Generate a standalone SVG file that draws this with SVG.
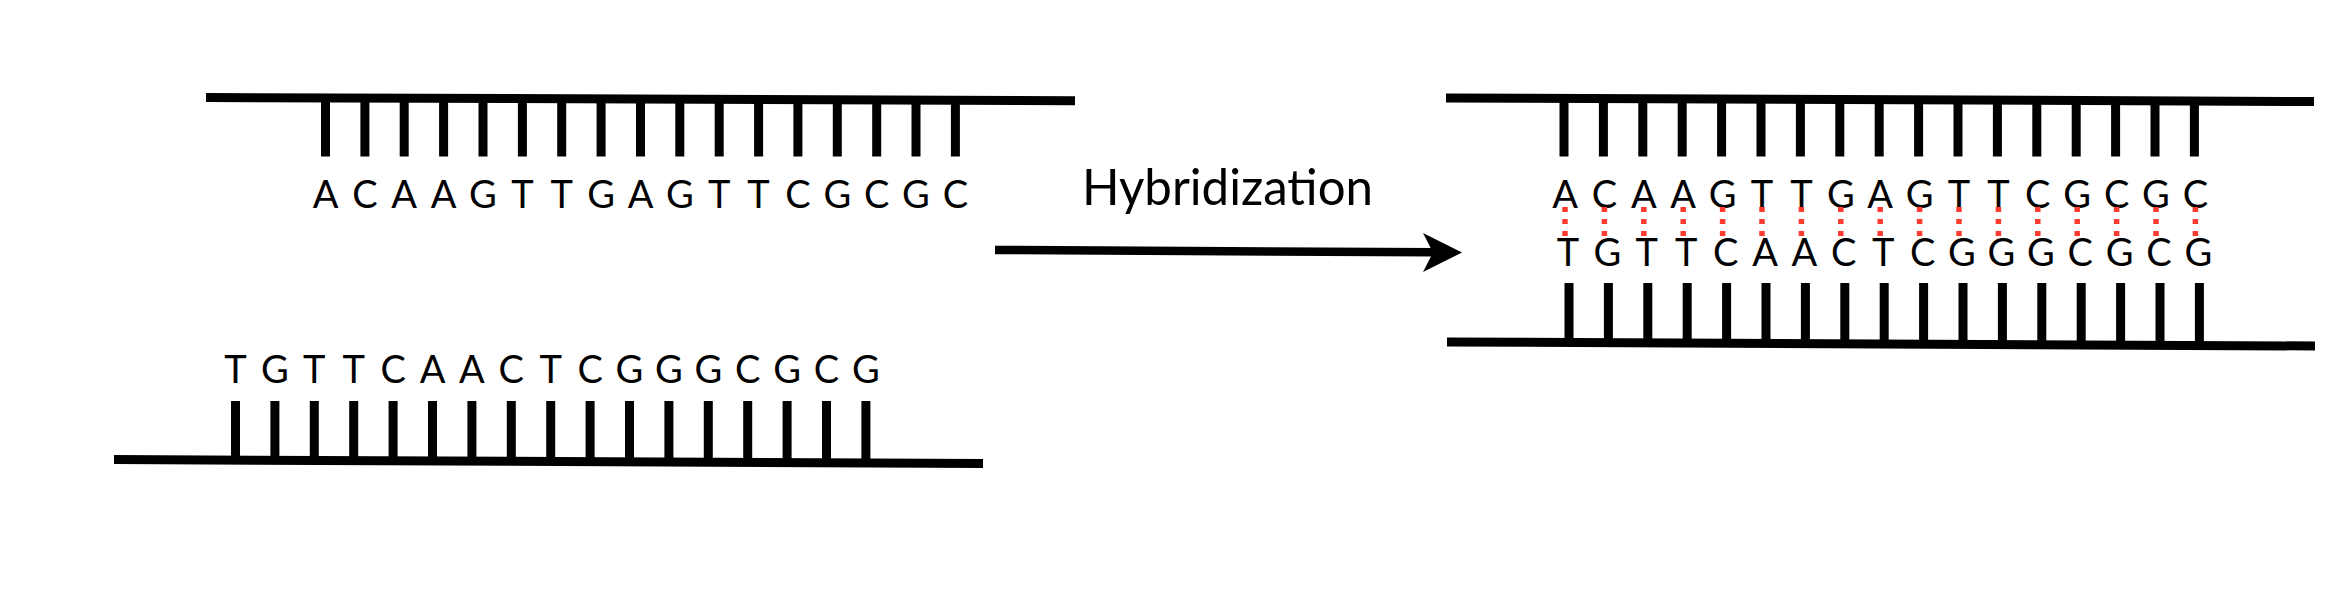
<svg xmlns="http://www.w3.org/2000/svg" width="2340" height="598" viewBox="0 0 2340 598">
<style>
.bb{stroke:#000;stroke-width:9;fill:none}
.tk{stroke:#000;stroke-width:9;fill:none}
.seq{font-family:Lato,"Liberation Sans",sans-serif;font-size:38px;fill:#000;text-anchor:middle}
.hb{stroke:#ff3b30;stroke-width:5.5;stroke-dasharray:5 7;fill:none}
.lbl{font-family:Lato,"Liberation Sans",sans-serif;font-size:50px;fill:#000}
</style>
<rect width="2340" height="598" fill="#fff"/>
<g id="strand-top-left">
<line class="bb" x1="206" y1="97.5" x2="1075" y2="100.7"/>
<path class="tk" d="M325.5 98V156.5M364.9 98V156.5M404.2 98V156.5M443.6 98V156.5M483 98V156.5M522.4 98V156.5M561.7 98V156.5M601.1 98V156.5M640.5 98V156.5M679.8 98V156.5M719.2 99V156.5M758.6 99V156.5M797.9 99V156.5M837.3 99V156.5M876.7 99V156.5M916 99V156.5M955.4 99V156.5"/>
<text class="seq" x="325.5 364.9 404.2 443.6 483 522.4 561.7 601.1 640.5 679.8 719.2 758.6 797.9 837.3 876.7 916 955.4" y="207.5">ACAAGTTGAGTTCGCGC</text>
</g>
<g id="strand-bottom-left">
<line class="bb" x1="114" y1="459.5" x2="983" y2="463.5"/>
<path class="tk" d="M235.5 401V460M274.9 401V460M314.3 401V460M353.7 401V460M393.1 401V461M432.5 401V461M471.9 401V461M511.3 401V461M550.7 401V461M590.1 401V462M629.5 401V462M668.9 401V462M708.3 401V462M747.7 401V462M787.1 401V462M826.5 401V462M865.9 401V462"/>
<text class="seq" x="235.5 274.9 314.3 353.7 393.1 432.5 471.9 511.3 550.7 590.1 629.5 668.9 708.3 747.7 787.1 826.5 865.9" y="383">TGTTCAACTCGGGCGCG</text>
</g>
<g id="label-hybridization">
<text class="lbl" x="1082" y="205" textLength="291" lengthAdjust="spacingAndGlyphs">Hybridization</text>
</g>
<g id="connectors">
<line x1="995" y1="250" x2="1435" y2="252.3" stroke="#000" stroke-width="8.5"/>
<polygon points="1462,252.5 1423,233 1433,252.5 1423,272" fill="#000"/>
</g>
<g id="duplex-right">
<line class="bb" x1="1446" y1="98" x2="2314" y2="101.5"/>
<path class="tk" d="M1564 99V156.5M1603.4 99V156.5M1642.8 99V156.5M1682.2 99V156.5M1721.6 99V156.5M1761 99V156.5M1800.4 99V156.5M1839.8 99V156.5M1879.2 99V156.5M1918.6 100V156.5M1958 100V156.5M1997.4 100V156.5M2036.8 100V156.5M2076.2 100V156.5M2115.6 100V156.5M2155 100V156.5M2194.4 100V156.5"/>
<text class="seq" x="1565 1604.4 1643.8 1683.2 1722.6 1762 1801.4 1840.8 1880.2 1919.6 1959 1998.4 2037.8 2077.2 2116.6 2156 2195.4" y="208">ACAAGTTGAGTTCGCGC</text>
<path class="hb" d="M1565 207V237M1604.4 207V237M1643.8 207V237M1683.2 207V237M1722.6 207V237M1762 207V237M1801.4 207V237M1840.8 207V237M1880.2 207V237M1919.6 207V237M1959 207V237M1998.4 207V237M2037.8 207V237M2077.2 207V237M2116.6 207V237M2156 207V237M2195.4 207V237"/>
<text class="seq" x="1568 1607.4 1646.8 1686.2 1725.6 1765 1804.4 1843.8 1883.2 1922.6 1962 2001.4 2040.8 2080.2 2119.6 2159 2198.4" y="266">TGTTCAACTCGGGCGCG</text>
<line class="bb" x1="1447" y1="342" x2="2315" y2="346"/>
<path class="tk" d="M1569 283V343M1608.4 283V343M1647.8 283V343M1687.2 283V343M1726.6 283V343M1766 283V343M1805.4 283V344M1844.8 283V344M1884.2 283V344M1923.6 283V344M1963 283V344M2002.4 283V344M2041.8 283V345M2081.2 283V345M2120.6 283V345M2160 283V345M2199.4 283V345"/>
</g>
</svg>
